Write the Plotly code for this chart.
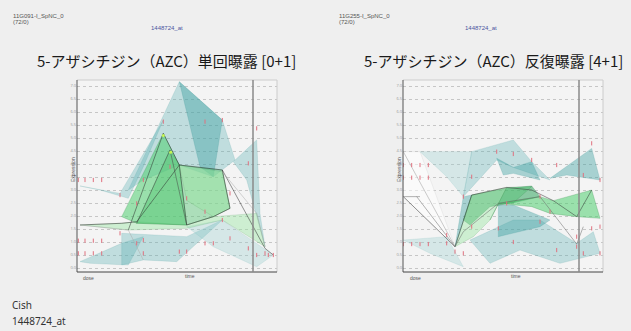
import plotly.graph_objects as go

# ---------------- data (x: position along dose/time axis 0-200, y: expression grid units 0-14) -------------
tick_vals = list(range(15))
tick_text = ["0.0", "0.5", "1.0", "1.5", "2.0", "2.5", "3.0", "3.5", "4.0", "4.5", "5.0", "5.5", "6.0", "6.5", "7.0"]

titles = ["5-アザシチジン（AZC）単回曝露 [0+1]", "5-アザシチジン（AZC）反復曝露 [4+1]"]
headers = ["11G091-I_SpNC_0", "11G255-I_SpNC_0"]
counts = ["(72/0)", "(72/0)"]
probe = "1448724_at"
gene = "Cish"

# polygons: (style, xs, ys)
left_polys = [
    ("teal",  [51.3, 102.3, 145.3, 158, 136.3, 102.3, 66.3], [6.0, 14.33, 11.38, 8.31, 7.02, 7.92, 6.77]),
    ("tealD", [102.3, 145.3, 136.3, 123], [14.33, 11.38, 7.02, 7.79]),
    ("teal",  [3, 43, 86.3, 66.3, 51.3, 23], [6.31, 5.74, 11.38, 7.79, 5.36, 6.0]),
    ("teal",  [156.3, 179.7, 183, 188, 169.7], [8.18, 9.85, 4.20, 1.64, 6.77]),
    ("teal",  [3, 44.7, 66.3, 51.3, 13], [0.49, 1.90, 2.41, 0.23, 0.36]),
    ("teal",  [44.7, 109.7, 145.3, 99.7, 66.3, 44.7], [2.67, 2.41, 3.69, 0.49, 0.62, 0.23]),
    ("tealL", [109.7, 145.3, 196.3, 179.7, 136.3], [3.18, 3.69, 1.0, 0.10, 1.64]),
    ("greenL", [3, 44.7, 59.7, 109.7, 136.3, 156.3, 179.7, 188, 145.3, 109.7, 51.3],
               [3.31, 3.44, 3.56, 3.31, 3.95, 4.08, 4.2, 1.64, 3.69, 3.05, 2.92]),
    ("green", [44.7, 86.3, 102.3, 109.7, 59.7], [3.95, 10.36, 7.92, 3.31, 3.44]),
    ("greenM", [59.7, 93, 102.3, 145.3, 153, 136.3, 109.7], [3.44, 9.08, 7.92, 7.54, 4.59, 3.95, 3.31]),
    ("greenL", [102.3, 145.3, 153, 136.3, 109.7], [7.92, 7.41, 4.59, 3.95, 5.2]),
]
left_lines = [
    ("#2a2a2a", [3, 44.7, 59.7, 102.3, 145.3, 188, 196.3], [3.31, 3.44, 3.56, 7.92, 7.54, 1.51, 1.0]),
    ("#2a2a2a", [51.3, 86.3, 102.3, 109.7, 136.3, 153, 145.3], [2.92, 10.36, 7.92, 3.31, 3.95, 4.59, 7.54]),
    ("#444", [59.7, 93, 109.7], [3.44, 9.08, 3.31]),
    ("#aaa", [3, 51.3, 66.3], [3.31, 2.92, 0.62]),
    ("#aaa", [145.3, 179.7, 188], [7.41, 4.2, 1.64]),
]
left_marks_x = [1.3, 8, 16.3, 24.7, 1.3, 8, 16.3, 24.7, 1.3, 8, 16.3, 24.7,
                43, 43, 59.7, 59.7, 66.3, 66.3, 66.3, 86.3, 93, 102.3, 109.7, 109.7, 128, 128, 128,
                136.3, 145.3, 145.3, 153, 153, 179.7, 171.3, 171.3, 179.7, 188, 191.3, 196.3]
left_marks_y = [6.77, 6.77, 6.77, 6.77, 2.10, 2.10, 2.10, 2.10, 1.13, 1.13, 1.13, 1.13,
                5.61, 2.67, 4.97, 1.90, 6.77, 2.15, 1.13, 11.26, 7.79, 1.26, 5.36, 1.26, 11.26, 4.33, 1.9,
                1.9, 11.38, 3.69, 5.74, 2.28, 10.74, 8.05, 1.51, 1.0, 1.13, 1.0, 1.0]
left_spots_x = [86.3, 93.7]
left_spots_y = [10.2, 8.9]

right_polys = [
    ("white", [0.3, 17, 52, 0.3], [8.95, 8.95, 1.64, 5.49]),
    ("tealL", [17, 68.7, 60.3, 43.7], [8.95, 8.95, 5.49, 7.02]),
    ("teal",  [68.7, 110.3, 128.7, 147, 110.3, 93.7, 60.3], [8.95, 9.85, 8.18, 6.77, 7.74, 8.31, 5.49]),
    ("tealD", [93.7, 110.3, 128.7, 137, 110.3, 100.3], [8.44, 7.74, 8.18, 6.77, 7.28, 7.15]),
    ("tealD", [147, 188.7, 197, 173.7, 163.7], [6.9, 9.2, 6.77, 7.02, 7.15]),
    ("teal",  [67, 110.3, 137, 173.7, 190.3, 197, 157, 117, 87], [2.15, 3.69, 3.69, 1.9, 2.79, 1.13, 0.36, 1.38, 0.36]),
    ("tealD", [95.3, 110.3, 147, 137, 95.3], [4.85, 4.85, 3.69, 3.18, 2.41]),
    ("tealL", [0.3, 43.7, 60.3, 27], [2.15, 2.41, 0.1, 1.13]),
    ("tealD", [52, 60.3, 68.7, 60.3], [1.64, 5.49, 5.61, 3.69]),
    ("greenD", [60.3, 68.7, 103.7, 128.7, 137, 110.3, 87, 67], [3.69, 5.61, 6.13, 6.31, 5.49, 5.02, 4.72, 3.31]),
    ("green", [95.3, 137, 150.3, 188.7, 197, 173.7, 147, 128.7], [4.97, 5.49, 5.18, 6.0, 3.82, 3.95, 4.2, 4.72]),
    ("greenL", [52, 68.7, 103.7, 87, 70.3], [1.64, 5.61, 6.2, 3.69, 2.41]),
    ("greenM", [87, 103.7, 128.7, 110.3, 95.3], [3.69, 6.2, 6.26, 5.02, 4.92]),
]
right_lines = [
    ("#333", [0.3, 52, 68.7, 103.7, 128.7, 150.3, 173.7, 188.7], [5.49, 1.64, 5.61, 6.2, 6.0, 5.18, 3.95, 6.0]),
    ("#666", [13.7, 52, 60.3, 95.3, 137, 173.7, 180.3], [5.49, 1.64, 2.79, 4.97, 5.49, 1.84, 3.18]),
    ("#999", [0.3, 52], [8.95, 1.64]),
    ("#666", [0.3, 17], [5.49, 5.49]),
]
right_marks_x = [0.3, 8.7, 17, 25.3, 0.3, 8.7, 17, 25.3, 0.3, 8.7, 17, 25.3,
                 43.7, 43.7, 52, 60.3, 60.3, 68.7, 68.7, 93.7, 95.3, 103.7, 110.3, 110.3, 128.7, 137, 137,
                 147, 153.7, 153.7, 173.7, 173.7, 180.3, 188.7, 180.3, 197, 197, 197, 188.7]
right_marks_y = [7.92, 7.92, 7.92, 7.92, 6.95, 6.95, 6.95, 6.95, 1.84, 1.84, 1.84, 1.84,
                 2.54, 1.9, 1.26, 5.49, 1.13, 7.02, 3.18, 8.95, 3.05, 4.97, 8.77, 2.0, 8.31, 3.56, 5.49,
                 4.33, 7.92, 1.38, 2.41, 1.64, 1.13, 9.59, 7.15, 6.77, 1.13, 3.18, 3.05]

# ---------------- styles ----------------
fills = {
    "teal":  ("rgba(90,176,180,0.34)", "rgba(80,160,165,0.35)"),
    "tealD": ("rgba(60,160,160,0.42)", "rgba(60,150,150,0.4)"),
    "tealL": ("rgba(150,205,205,0.32)", "rgba(120,185,185,0.35)"),
    "white": ("rgba(255,255,255,0.55)", "rgba(190,190,190,0.4)"),
    "green": ("rgba(70,205,105,0.52)", "rgba(50,140,70,0.5)"),
    "greenM": ("rgba(85,195,115,0.45)", "rgba(50,140,70,0.45)"),
    "greenD": ("rgba(50,165,95,0.55)", "rgba(40,120,70,0.5)"),
    "greenL": ("rgba(150,228,160,0.42)", "rgba(90,160,100,0.4)"),
}

fig = go.Figure()

def add_panel(polys, lines, mx, my, xa, ya):
    for style, xs, ys in polys:
        fc, lc = fills[style]
        fig.add_trace(go.Scatter(x=xs + xs[:1], y=ys + ys[:1], mode="lines", fill="toself",
                                 fillcolor=fc, line=dict(color=lc, width=0.5),
                                 xaxis=xa, yaxis=ya, hoverinfo="skip", showlegend=False))
    for col, xs, ys in lines:
        fig.add_trace(go.Scatter(x=xs, y=ys, mode="lines", line=dict(color=col, width=0.5),
                                 xaxis=xa, yaxis=ya, hoverinfo="skip", showlegend=False))
    fig.add_trace(go.Scatter(x=mx, y=my, mode="markers",
                             marker=dict(symbol="line-ns", size=3, line=dict(color="#e0707e", width=1)),
                             xaxis=xa, yaxis=ya, hoverinfo="skip", showlegend=False))

add_panel(left_polys, left_lines, left_marks_x, left_marks_y, "x", "y")
fig.add_trace(go.Scatter(x=left_spots_x, y=left_spots_y, mode="markers",
                         marker=dict(size=3, color="rgba(210,255,80,0.9)"),
                         xaxis="x", yaxis="y", hoverinfo="skip", showlegend=False))
add_panel(right_polys, right_lines, right_marks_x, right_marks_y, "x2", "y2")

W, H = 631, 331
panels = [(77, 277, 176), (403, 603, 176)]
title_cx = [166, 494]
probe_cx = [167, 481]
header_x = [11, 337]
top, bot = 80, 272

def px(x):
    return x / W

def py(y):
    return 1 - y / H

yr = [(268 - bot) / 13, (268 - top) / 13]
axis_common = dict(showticklabels=False, showgrid=False, zeroline=False, range=[0, 200], fixedrange=True)
yaxis_common = dict(range=yr, tickvals=tick_vals, ticktext=tick_text, showgrid=True,
                    gridcolor="#c6c6c6", griddash="dot", gridwidth=0.5, zeroline=False,
                    tickfont=dict(size=4, color="#999"), ticks="", ticklen=0, fixedrange=True)

fig.update_layout(
    width=W, height=H, margin=dict(l=0, r=0, t=0, b=0),
    paper_bgcolor="#efefef", plot_bgcolor="#f4f4f4",
    xaxis=dict(domain=[px(77), px(277)], anchor="y", **axis_common),
    yaxis=dict(domain=[py(bot), py(top)], anchor="x", **yaxis_common),
    xaxis2=dict(domain=[px(403), px(603)], anchor="y2", **axis_common),
    yaxis2=dict(domain=[py(bot), py(top)], anchor="x2", **yaxis_common),
)

shapes = []
annots = []
small = dict(family="Liberation Sans", size=6, color="#555")
for i, (x0, x1, div) in enumerate(panels):
    xa = "x" if i == 0 else "x2"
    shapes.append(dict(type="line", xref="paper", yref="paper", x0=px(x0), x1=px(x1), y0=py(top), y1=py(top),
                       line=dict(color="#cccccc", width=1)))
    shapes.append(dict(type="line", xref="paper", yref="paper", x0=px(x1), x1=px(x1), y0=py(top), y1=py(bot),
                       line=dict(color="#cccccc", width=1)))
    shapes.append(dict(type="line", xref="paper", yref="paper", x0=px(x0), x1=px(x0), y0=py(top), y1=py(bot),
                       line=dict(color="#555", width=1)))
    shapes.append(dict(type="line", xref="paper", yref="paper", x0=px(x0), x1=px(x1), y0=py(bot), y1=py(bot),
                       line=dict(color="#444", width=1.2)))
    shapes.append(dict(type="line", xref=xa, yref="paper", x0=div, x1=div, y0=py(bot), y1=py(top),
                       line=dict(color="#8a8a8a", width=1.5)))
    annots.append(dict(text=titles[i], xref="paper", yref="paper", x=px(title_cx[i]),
                       y=py(60), showarrow=False,
                       font=dict(family="Noto Sans CJK JP", size=15, color="#1a1a1a"),
                       xanchor="center", yanchor="middle"))
    annots.append(dict(text=headers[i], xref="paper", yref="paper", x=px(header_x[i]), y=py(16), showarrow=False,
                       font=small, xanchor="left", yanchor="middle"))
    annots.append(dict(text=counts[i], xref="paper", yref="paper", x=px(header_x[i]), y=py(22), showarrow=False,
                       font=small, xanchor="left", yanchor="middle"))
    annots.append(dict(text=probe, xref="paper", yref="paper", x=px(probe_cx[i]), y=py(28),
                       showarrow=False, font=dict(family="Liberation Sans", size=6, color="#4a55a0"),
                       xanchor="center", yanchor="middle"))
    annots.append(dict(text="Expression", xref="paper", yref="paper", x=px(x0 - 4), y=py(170), showarrow=False,
                       textangle=-90, font=dict(family="Liberation Sans", size=5, color="#555"),
                       xanchor="center", yanchor="middle"))
    annots.append(dict(text="dose", xref="paper", yref="paper", x=px(x0 + 12), y=py(278), showarrow=False,
                       font=dict(family="Liberation Sans", size=5, color="#555"), xanchor="center", yanchor="middle"))
    annots.append(dict(text="time", xref="paper", yref="paper", x=px(x0 + 113), y=py(276), showarrow=False,
                       font=dict(family="Liberation Sans", size=5, color="#555"), xanchor="center", yanchor="middle"))

annots.append(dict(text=gene, xref="paper", yref="paper", x=px(10), y=py(305), showarrow=False,
                   font=dict(family="Noto Sans", size=10, color="#333"), xanchor="left", yanchor="middle"))
annots.append(dict(text=probe, xref="paper", yref="paper", x=px(10), y=py(321), showarrow=False,
                   font=dict(family="Noto Sans", size=10, color="#333"), xanchor="left", yanchor="middle"))

fig.update_layout(shapes=shapes, annotations=annots)
fig.write_html("out.html")
